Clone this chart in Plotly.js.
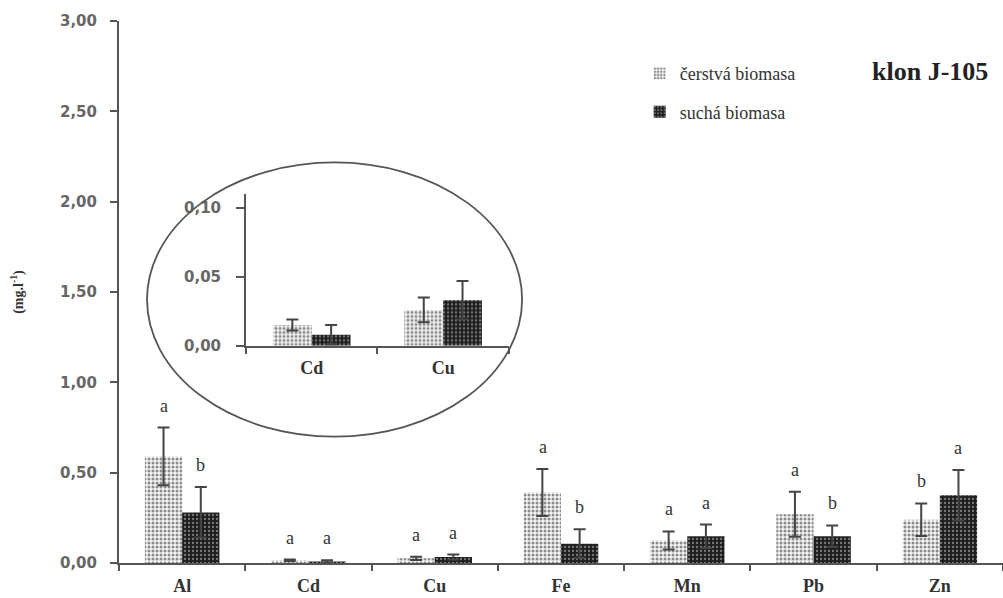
<!DOCTYPE html>
<html>
<head>
<meta charset="utf-8">
<script src="https://cdn.plot.ly/plotly-3.0.1.min.js"></script>
<style>html,body{margin:0;padding:0;background:#fff;}#chart{width:1003px;height:598px;}</style>
</head>
<body>
<div id="chart"></div>
<script>
// ---- data ----
const categories = ['Al', 'Cd', 'Cu', 'Fe', 'Mn', 'Pb', 'Zn'];
const fresh      = [0.59, 0.015, 0.026, 0.39, 0.125, 0.27, 0.24];
const freshErr   = [0.16, 0.004, 0.009, 0.13, 0.05, 0.125, 0.09];
const dry        = [0.28, 0.008, 0.033, 0.107, 0.148, 0.148, 0.375];
const dryErr     = [0.14, 0.007, 0.014, 0.08, 0.065, 0.06, 0.14];
const freshLetters = ['a', 'a', 'a', 'a', 'a', 'a', 'b'];
const dryLetters   = ['b', 'a', 'a', 'b', 'a', 'b', 'a'];
const insetCategories = ['Cd', 'Cu'];
const seriesNames = ['čerstvá biomasa', 'suchá biomasa'];
const yTickVals = [0, 0.5, 1, 1.5, 2, 2.5, 3];
const insetTickVals = [0, 0.05, 0.10];
const cloneLabel = 'klon J-105';
const yTitle = '(mg.l<sup>-1</sup>)';

// ---- styles ----
const axisColor = '#555';
const tickFont = {family: 'DejaVu Sans', size: 15, color: '#666', weight: 'bold'};
const catFont = {family: 'Liberation Serif', size: 18, color: '#333', weight: 'bold'};
const letterFont = {family: 'Liberation Serif', size: 18, color: '#333'};
const freshMarker = {color: '#fff', line: {width: 0},
  pattern: {shape: '.', fgcolor: '#8a8a8a', bgcolor: '#f4f4f4', size: 4, solidity: 0.45}};
const dryMarker = {color: '#222', line: {width: 0},
  pattern: {shape: '.', fgcolor: '#7a7a7a', bgcolor: '#1e1e1e', size: 4, solidity: 0.25}};
const errStyle = {type: 'data', visible: true, color: '#444', thickness: 2, width: 6};

const insetIdx = insetCategories.map(c => categories.indexOf(c));

const traces = [
  {type: 'bar', name: seriesNames[0], x: categories, y: fresh, marker: freshMarker,
   error_y: Object.assign({array: freshErr}, errStyle), legendgroup: 'g1', hoverinfo: 'skip'},
  {type: 'bar', name: seriesNames[1], x: categories, y: dry, marker: dryMarker,
   error_y: Object.assign({array: dryErr}, errStyle), legendgroup: 'g2', hoverinfo: 'skip'},
  {type: 'bar', name: seriesNames[0], x: insetCategories, y: insetIdx.map(i => fresh[i]),
   marker: freshMarker, error_y: Object.assign({array: insetIdx.map(i => freshErr[i])}, errStyle),
   xaxis: 'x2', yaxis: 'y2', showlegend: false, hoverinfo: 'skip'},
  {type: 'bar', name: seriesNames[1], x: insetCategories, y: insetIdx.map(i => dry[i]),
   marker: dryMarker, error_y: Object.assign({array: insetIdx.map(i => dryErr[i])}, errStyle),
   xaxis: 'x2', yaxis: 'y2', showlegend: false, hoverinfo: 'skip'}
];

const annotations = [];
categories.forEach((c, i) => {
  annotations.push({xref: 'x', yref: 'y', x: c, y: fresh[i] + freshErr[i], xshift: -18.5, yshift: 10,
    yanchor: 'bottom', text: freshLetters[i], showarrow: false, font: letterFont});
  annotations.push({xref: 'x', yref: 'y', x: c, y: dry[i] + dryErr[i], xshift: 18.5, yshift: 10,
    yanchor: 'bottom', text: dryLetters[i], showarrow: false, font: letterFont});
});
annotations.push({xref: 'paper', yref: 'paper', x: 0.985, y: 0.907, xanchor: 'right', yanchor: 'middle',
  text: '<b>' + cloneLabel + '</b>', showarrow: false,
  font: {family: 'Liberation Serif', size: 26, color: '#222'}});

const layout = {
  width: 1003, height: 598,
  margin: {l: 119, r: 0, t: 21, b: 35, pad: 0},
  paper_bgcolor: '#fff', plot_bgcolor: '#fff',
  separators: ', ',
  barmode: 'group', bargap: 0.41, bargroupgap: 0,
  showlegend: true,
  legend: {x: 0.589, y: 0.937, xanchor: 'left', yanchor: 'top', bgcolor: 'rgba(0,0,0,0)',
    traceorder: 'grouped', tracegroupgap: 12, itemwidth: 30,
    font: {family: 'Liberation Serif', size: 18, color: '#333'}},
  xaxis: {type: 'category', domain: [0, 1], showline: true, linecolor: axisColor, linewidth: 2,
    ticks: 'outside', tickson: 'boundaries', ticklen: 6, tickwidth: 2, tickcolor: axisColor,
    tickfont: catFont, ticklabelstandoff: 5, showgrid: false, zeroline: false, fixedrange: true},
  yaxis: {range: [0, 3], tickvals: yTickVals, tickformat: '.2f', showline: true, linecolor: axisColor,
    linewidth: 2, ticks: 'outside', ticklen: 7, tickwidth: 2, tickcolor: axisColor, tickfont: tickFont,
    ticklabelstandoff: 10, showgrid: false, zeroline: false, fixedrange: true,
    title: {text: yTitle, standoff: 33, font: {family: 'Liberation Serif', size: 14, color: '#333', weight: 'bold'}}},
  xaxis2: {type: 'category', domain: [0.1437, 0.441], anchor: 'y2', showline: true, linecolor: axisColor,
    linewidth: 2, ticks: 'outside', tickson: 'boundaries', ticklen: 6, tickwidth: 2, tickcolor: axisColor,
    tickfont: catFont, ticklabelstandoff: 5, showgrid: false, zeroline: false, fixedrange: true},
  yaxis2: {domain: [0.401, 0.680], anchor: 'x2', range: [0, 0.11], tickvals: insetTickVals, tickformat: '.2f',
    showline: true, linecolor: axisColor, linewidth: 2, ticks: 'outside', ticklen: 8, tickwidth: 2,
    tickcolor: axisColor, tickfont: tickFont, ticklabelstandoff: 12, showgrid: false, zeroline: false,
    fixedrange: true},
  shapes: [{type: 'circle', xref: 'paper', yref: 'paper', x0: 0.0317, x1: 0.456, y0: 0.233, y1: 0.739,
    line: {color: '#555', width: 1.8}, fillcolor: 'rgba(0,0,0,0)', layer: 'above'}],
  annotations: annotations
};

Plotly.newPlot('chart', traces, layout, {staticPlot: true, displayModeBar: false});
</script>
</body>
</html>
